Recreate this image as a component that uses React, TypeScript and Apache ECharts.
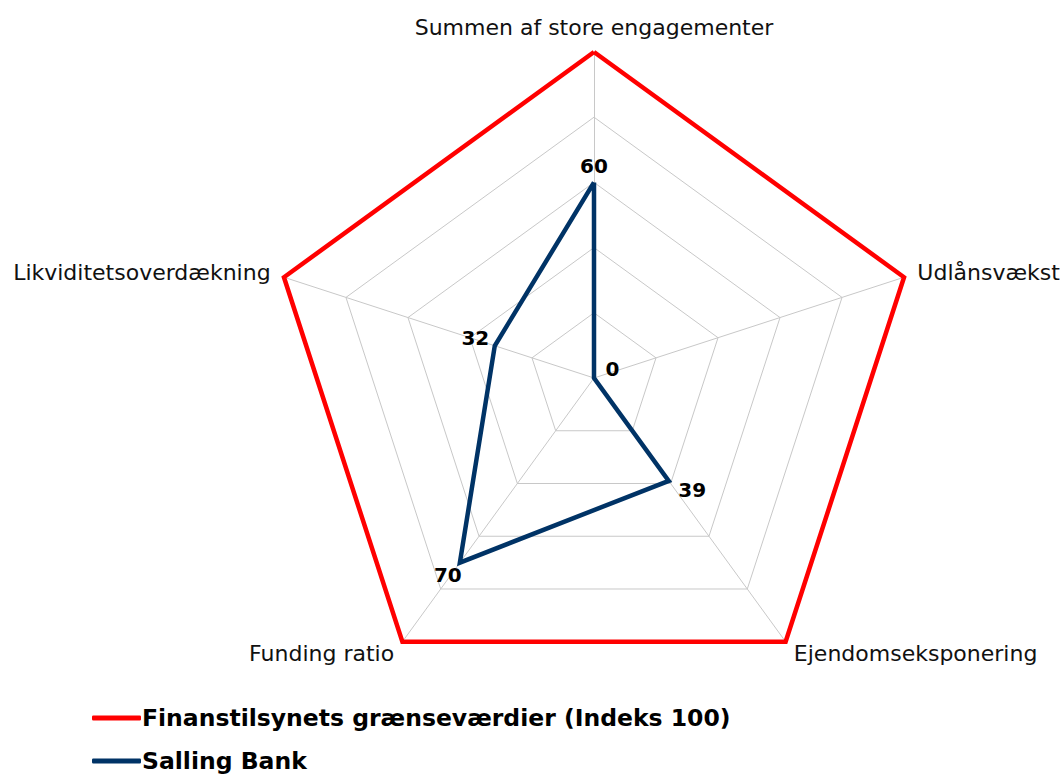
import React, { useEffect, useRef } from "react";
import * as echarts from "echarts";

// Indicators listed counter-clockwise starting at the top (ECharts radar order)
const indicators = [
  "Summen af store engagementer",
  "Likviditetsoverdækning",
  "Funding ratio",
  "Ejendomseksponering",
  "Udlånsvækst",
];
const limitName = "Finanstilsynets grænseværdier (Indeks 100)";
const bankName = "Salling Bank";
const limitValues = [100, 100, 100, 100, 100];
const bankValues = [60, 32, 70, 39, 0];
const maxValue = 100;

const FONT = "'DejaVu Sans', Verdana, sans-serif";

export default function App() {
  const ref = useRef<HTMLDivElement>(null);
  useEffect(() => {
    if (!ref.current) return;
    const chart = echarts.init(ref.current, null, { renderer: "svg" });
    // label placement per axis point
    const labelPlace: any[] = [
      { position: "top", distance: 6, offset: [0, 0] },
      { position: "left", distance: 5, offset: [0, -8] },
      { position: "bottom", distance: 2, offset: [-12, 0] },
      { position: "right", distance: 9, offset: [0, 9] },
      { position: "right", distance: 11, offset: [0, -9] },
    ];
    const labelSeries = labelPlace.map((lp, i) => ({
      type: "radar",
      name: "lbl" + i,
      silent: true,
      z: 5,
      symbol: "circle",
      symbolSize: 1,
      itemStyle: { color: "rgba(0,0,0,0)" },
      lineStyle: { opacity: 0, width: 0 },
      data: [
        {
          value: bankValues,
          label: {
            show: true,
            position: lp.position,
            distance: lp.distance,
            offset: lp.offset,
            color: "#000",
            fontFamily: FONT,
            fontWeight: "bold",
            fontSize: 20,
            formatter: (p: any) =>
              p.dimensionIndex === i ? String(bankValues[i]) : "",
          },
        },
      ],
    }));
    chart.setOption({
      animation: false,
      textStyle: { fontFamily: FONT },
      legend: {
        orient: "vertical",
        left: 92,
        top: 706,
        height: 120,
        padding: 0,
        itemWidth: 49,
        itemHeight: 5,
        itemGap: 19,
        data: [
          { name: limitName, icon: "roundRect" },
          { name: bankName, icon: "roundRect" },
        ],
        textStyle: {
          fontFamily: FONT,
          fontWeight: "bold",
          fontSize: 23.5,
          lineHeight: 22,
          color: "#000",
          padding: [0, 0, 0, -4],
        },
      },
      radar: {
        center: [594, 378],
        radius: 326,
        startAngle: 90,
        splitNumber: 5,
        shape: "polygon",
        indicator: indicators.map((n) => ({ name: n, max: maxValue, min: 0 })),
        axisName: {
          color: "#111",
          fontFamily: FONT,
          fontSize: 22,
        },
        nameGap: 14,
        axisLine: { lineStyle: { color: "#c8c8c8", width: 1 } },
        splitLine: { lineStyle: { color: "#c8c8c8", width: 1 } },
        splitArea: { show: false },
      },
      series: [
        {
          type: "radar",
          name: limitName,
          symbol: "none",
          z: 3,
          color: "#ff0000",
          lineStyle: { color: "#ff0000", width: 4.5, join: "miter" },
          data: [{ value: limitValues, name: limitName }],
        },
        {
          type: "radar",
          name: bankName,
          symbol: "none",
          z: 4,
          color: "#003366",
          lineStyle: { color: "#003366", width: 4.5, join: "miter" },
          data: [{ value: bankValues, name: bankName }],
        },
        ...labelSeries,
      ],
    });
    return () => chart.dispose();
  }, []);
  return (
    <div
      ref={ref}
      style={{ position: "absolute", left: 0, top: 0, width: 1061, height: 776 }}
    />
  );
}
